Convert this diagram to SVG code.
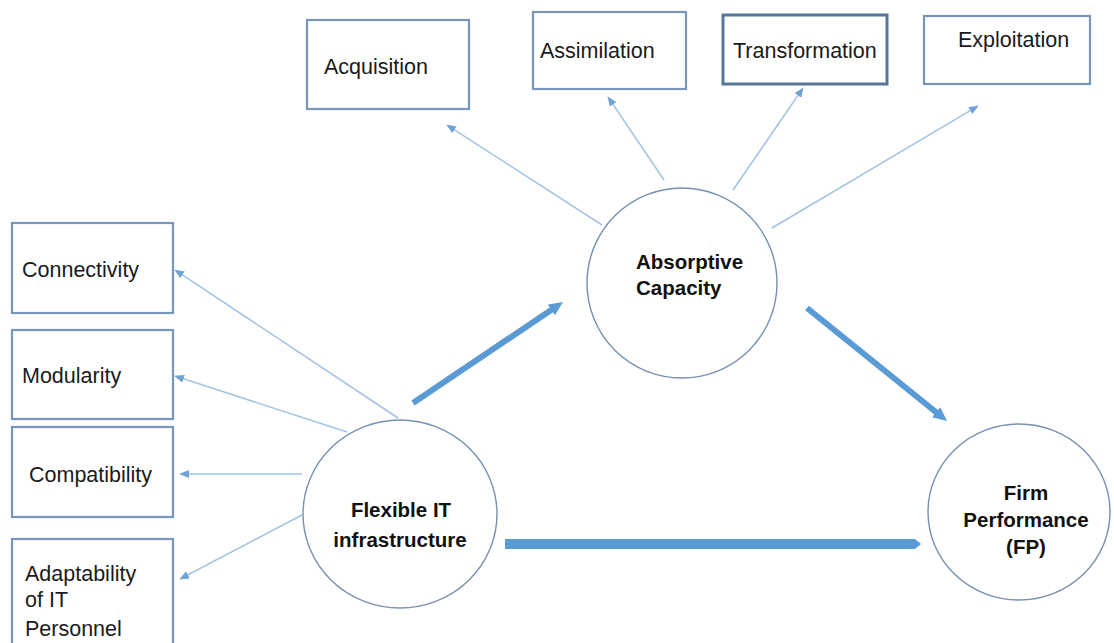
<svg xmlns="http://www.w3.org/2000/svg" width="1114" height="643" viewBox="0 0 1114 643">
  <style>
    .box { fill: #ffffff; stroke: #7896bb; stroke-width: 2.2; }
    .box-strong { fill: #ffffff; stroke: #56769c; stroke-width: 3; }
    .construct { fill: #ffffff; stroke: #7590b2; stroke-width: 1.4; }
    .label { font-family: "Liberation Sans", Arial, sans-serif; font-size: 21.5px; fill: #1a1a1a; }
    .title { font-family: "Liberation Sans", Arial, sans-serif; font-size: 20.5px; font-weight: bold; fill: #111111; }
    .thin { stroke: #a3c4e6; stroke-width: 1.6; fill: none; marker-end: url(#thinHead); }
    .thick { stroke: #5b9bd5; stroke-width: 6; fill: none; marker-end: url(#thickHead); }
  </style>
  <defs>
    <marker id="thinHead" markerUnits="userSpaceOnUse" markerWidth="10" markerHeight="8" viewBox="0 0 10 8" refX="1" refY="4" orient="auto">
      <path d="M0,0 L10,4 L0,8 z" fill="#6fa3d8"/>
    </marker>
    <marker id="thickHead" markerUnits="userSpaceOnUse" markerWidth="14" markerHeight="13" viewBox="0 0 14 13" refX="2" refY="6.5" orient="auto">
      <path d="M0,0 L14,6.5 L0,13 z" fill="#5b9bd5"/>
    </marker>
  </defs>

  <rect width="1114" height="643" fill="#ffffff"/>

  <!-- connectors -->
  <g id="connectors">
    <!-- absorptive capacity dimensions -->
    <line class="thin" x1="602" y1="225" x2="453.7" y2="129.3"/>
    <line class="thin" x1="664" y1="180" x2="612.5" y2="103.6"/>
    <line class="thin" x1="733" y1="190" x2="798.5" y2="94.6"/>
    <line class="thin" x1="772" y1="228" x2="971.1" y2="110.1"/>
    <!-- flexible IT infrastructure dimensions -->
    <line class="thin" x1="398" y1="418" x2="181.7" y2="274.4"/>
    <line class="thin" x1="347" y1="432" x2="182.6" y2="378.5"/>
    <line class="thin" x1="302" y1="474" x2="188" y2="474"/>
    <line class="thin" x1="302" y1="515" x2="187.1" y2="575.3"/>
    <!-- structural paths -->
    <line class="thick" x1="413" y1="403" x2="553" y2="308.7"/>
    <line class="thick" x1="807" y1="308" x2="937.7" y2="413.5"/>
    <polygon points="505,539 915,539 921,544 915,549 505,549" fill="#5b9bd5"/>
  </g>

  <!-- absorptive capacity dimensions -->
  <g id="acquisition">
    <rect class="box" x="307" y="20" width="162" height="89"/>
    <text class="label" x="324" y="74">Acquisition</text>
  </g>
  <g id="assimilation">
    <rect class="box" x="533" y="12" width="153" height="77"/>
    <text class="label" x="540" y="58">Assimilation</text>
  </g>
  <g id="transformation">
    <rect class="box-strong" x="723" y="15" width="164" height="69"/>
    <text class="label" x="733" y="58">Transformation</text>
  </g>
  <g id="exploitation">
    <rect class="box" x="924" y="16" width="166" height="68"/>
    <text class="label" x="958" y="47">Exploitation</text>
  </g>

  <!-- flexible IT infrastructure dimensions -->
  <g id="connectivity">
    <rect class="box" x="12" y="223" width="161" height="90"/>
    <text class="label" x="22" y="277">Connectivity</text>
  </g>
  <g id="modularity">
    <rect class="box" x="12" y="330" width="161" height="89"/>
    <text class="label" x="22" y="383">Modularity</text>
  </g>
  <g id="compatibility">
    <rect class="box" x="12" y="427" width="161" height="90"/>
    <text class="label" x="29" y="482">Compatibility</text>
  </g>
  <g id="adaptability">
    <rect class="box" x="12" y="539" width="161" height="112"/>
    <text class="label" x="25" y="581">Adaptability</text>
    <text class="label" x="25" y="607">of IT</text>
    <text class="label" x="25" y="636">Personnel</text>
  </g>

  <!-- constructs -->
  <g id="absorptive-capacity">
    <ellipse class="construct" cx="682" cy="283" rx="95" ry="95"/>
    <text class="title" x="636" y="269">Absorptive</text>
    <text class="title" x="636" y="295">Capacity</text>
  </g>
  <g id="flexible-it">
    <ellipse class="construct" cx="400" cy="514" rx="97" ry="94"/>
    <text class="title" x="401" y="517" text-anchor="middle">Flexible IT</text>
    <text class="title" x="400" y="547" text-anchor="middle">infrastructure</text>
  </g>
  <g id="firm-performance">
    <ellipse class="construct" cx="1019" cy="512" rx="91" ry="88"/>
    <text class="title" x="1026" y="500" text-anchor="middle">Firm</text>
    <text class="title" x="1026" y="527" text-anchor="middle">Performance</text>
    <text class="title" x="1026" y="554" text-anchor="middle">(FP)</text>
  </g>
</svg>
